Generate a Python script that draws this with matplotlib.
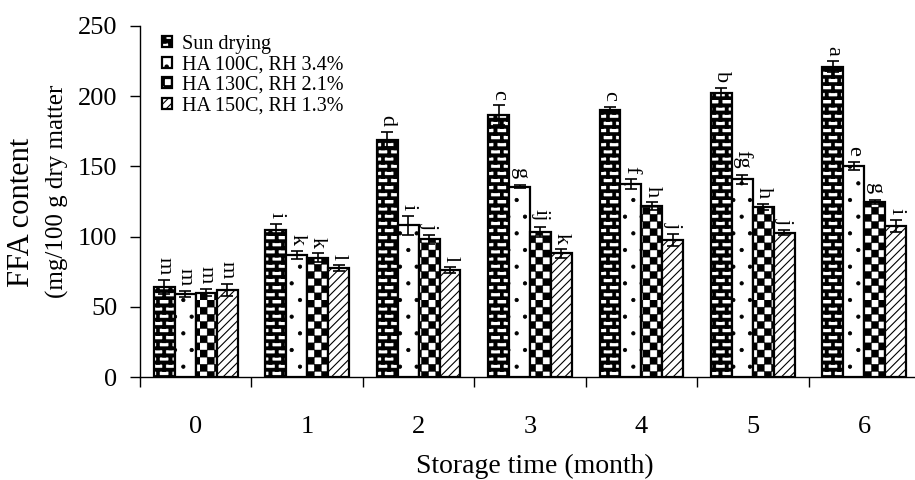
import numpy as np
import matplotlib
matplotlib.use("Agg")
import matplotlib.pyplot as plt
from matplotlib.path import Path
from matplotlib.backend_bases import GraphicsContextBase

# ---------------- data ----------------
months = ["0", "1", "2", "3", "4", "5", "6"]
series_names = ["Sun drying", "HA 100C, RH 3.4%", "HA 130C, RH 2.1%", "HA 150C, RH 1.3%"]

sun_drying = [64, 105, 169, 186.5, 190.5, 202, 221]
sun_err = [5, 4, 5.5, 7, 2, 4, 4]
ha100 = [59, 87, 108, 135.5, 137.5, 140.7, 150.3]
ha100_err = [2, 3, 7, 1.2, 3.5, 3.5, 3]
ha130 = [60, 85, 98, 103.5, 121.8, 121.3, 124.9]
ha130_err = [2.5, 3, 3, 3.5, 2.5, 2, 1.5]
ha150 = [62, 77.5, 76, 88, 97.6, 102.8, 107.5]
ha150_err = [4, 2, 2, 3, 4.5, 2, 4.5]

sun_letters = ["m", "i", "d", "c", "c", "b", "a"]
ha100_letters = ["m", "k", "i", "g", "f", "fg", "e"]
ha130_letters = ["m", "k", "j", "ij", "h", "h", "g"]
ha150_letters = ["m", "l", "l", "k", "j", "j", "i"]

# ---------------- custom hatch patterns (brick / checkerboard) ----------------
def _rects_path(rects):
    verts, codes = [], []
    for (x0, y0, x1, y1) in rects:
        verts += [(x0, y0), (x1, y0), (x1, y1), (x0, y1), (x0, y0)]
        codes += [Path.MOVETO, Path.LINETO, Path.LINETO, Path.LINETO, Path.CLOSEPOLY]
    return Path(np.array(verts, float), np.array(codes, Path.code_type))

def _brick_path():
    rows, cols = 14, 8
    h = 1.0 / rows
    w = 1.0 / cols
    mh, mv = 0.034, 0.034
    rects = []
    for r in range(rows):
        y0 = r * h
        rects.append((0.0, y0, 1.0, y0 + mh))
        off = 0.5 * w if r % 2 else 0.0
        for k in range(cols):
            x = (k * w + off) % 1.0
            rects.append((x, y0, min(x + mv, 1.0), y0 + h))
    return _rects_path(rects)

def _checker_path():
    n = 14
    s = 1.0 / n
    rects = []
    for i in range(n):
        for j in range(n):
            if (i + j) % 2 == 0:
                rects.append((i * s, j * s, (i + 1) * s, (j + 1) * s))
    return _rects_path(rects)

BRICK = "++++++++++++"
CHECK = "xxxxxxxxxxxx"
_CUSTOM = {BRICK: _brick_path(), CHECK: _checker_path()}
_orig_ghp = GraphicsContextBase.get_hatch_path

def _get_hatch_path(self, density=6.0):
    h = self.get_hatch()
    if h in _CUSTOM:
        return _CUSTOM[h]
    return _orig_ghp(self, density)

GraphicsContextBase.get_hatch_path = _get_hatch_path

# ---------------- figure ----------------
plt.rcParams["font.family"] = ["Liberation Serif", "DejaVu Serif"]
fig = plt.figure(figsize=(9.15, 4.8), dpi=100)
ax = fig.add_axes([140 / 915, 1 - 377 / 480, 780 / 915, 351 / 480])

x = np.arange(len(months))
bw = 0.188
values = [sun_drying, ha100, ha130, ha150]
errors = [sun_err, ha100_err, ha130_err, ha150_err]
letters = [sun_letters, ha100_letters, ha130_letters, ha150_letters]
hatches = [BRICK, ".", CHECK, "////"]
hlw = [0.3, 0.6, 0.3, 0.8]

for i in range(4):
    plt.rcParams["hatch.linewidth"] = hlw[i]
    pos = x + (i - 1.5) * bw
    ax.bar(pos, values[i], bw, color="white", edgecolor="black", linewidth=1.6,
           hatch=hatches[i], label=series_names[i], zorder=2)
    ax.errorbar(pos, values[i], yerr=errors[i], fmt="none", ecolor="black",
                elinewidth=1.2, capsize=4.3, capthick=1.2, zorder=3)
    for p, v, e, t in zip(pos, values[i], errors[i], letters[i]):
        ax.text(p, v + e + 4, t, rotation=-90, ha="center", va="bottom",
                fontsize=16, zorder=4)

ax.set_xlim(-0.5, 6.5)
ax.set_ylim(0, 250)
ax.set_yticks([0, 50, 100, 150, 200, 250])
ax.tick_params(axis="y", labelsize=19, length=7.2, width=1, direction="out", pad=9)
ax.set_xticks(np.arange(-0.5, 7.0, 1.0))
ax.set_xticklabels([])
ax.tick_params(axis="x", which="major", length=7.2, width=1, direction="out")
ax.set_xticks(x, minor=True)
ax.set_xticklabels(months, minor=True)
ax.tick_params(axis="x", which="minor", length=0, labelsize=19, pad=28)
for s in ["top", "right"]:
    ax.spines[s].set_visible(False)
for s in ["left", "bottom"]:
    ax.spines[s].set_linewidth(1.0)

fig.text(22 / 915, 1 - 212 / 480, "FFA content", rotation=90, ha="center", va="center", fontsize=22)
fig.text(57 / 915, 1 - 191 / 480, "(mg/100 g dry matter", rotation=90, ha="center", va="center", fontsize=18)
fig.text(535 / 915, 1 - 466 / 480, "Storage time (month)", ha="center", va="center", fontsize=20)

leg = ax.legend(loc="upper left", bbox_to_anchor=(0.028, 0.975), frameon=False, fontsize=14.5,
                handlelength=0.5, handleheight=0.45, handletextpad=0.5, labelspacing=0.08,
                borderpad=0.0, borderaxespad=0.0)

fig.savefig("out.png", dpi=100)
